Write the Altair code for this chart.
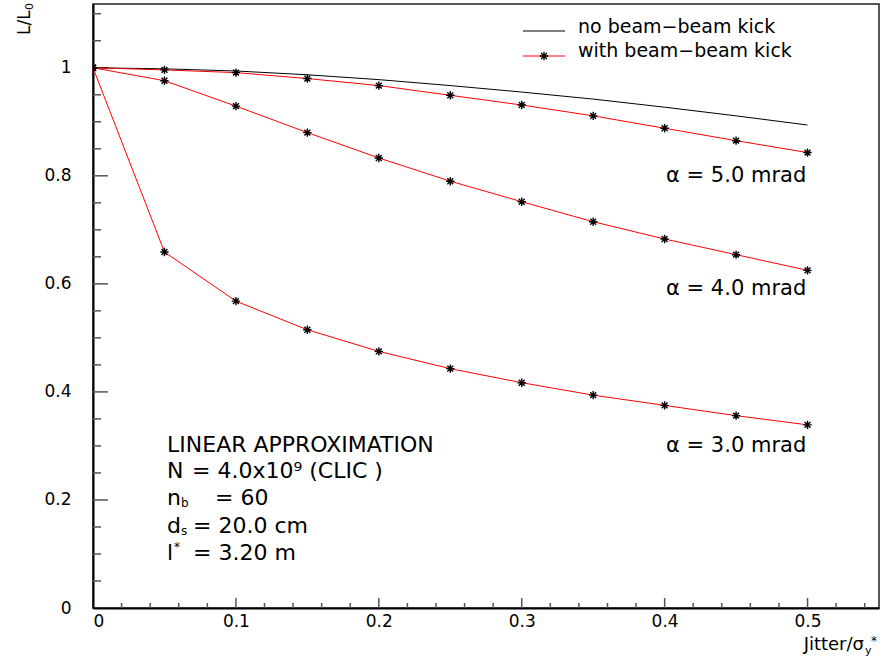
import altair as alt
import pandas as pd

# ---------------- data ----------------
jitter = [0.0, 0.05, 0.10, 0.15, 0.20, 0.25, 0.30, 0.35, 0.40, 0.45, 0.50]
no_kick = [1.000, 0.998, 0.994, 0.987, 0.978, 0.967, 0.955, 0.942, 0.927, 0.911, 0.894]
kick_5mrad = [1.000, 0.996, 0.991, 0.980, 0.967, 0.949, 0.931, 0.911, 0.888, 0.865, 0.843]
kick_4mrad = [1.000, 0.976, 0.929, 0.880, 0.833, 0.790, 0.752, 0.715, 0.683, 0.654, 0.625]
kick_3mrad = [1.000, 0.659, 0.568, 0.515, 0.475, 0.443, 0.417, 0.394, 0.375, 0.356, 0.339]
series_names = ["5.0 mrad", "4.0 mrad", "3.0 mrad"]

x_labels = [0, 0.1, 0.2, 0.3, 0.4, 0.5]
y_labels = [0, 0.2, 0.4, 0.6, 0.8, 1.0]

curve_labels = ["α  =  5.0  mrad", "α  =  4.0  mrad", "α  =  3.0  mrad"]
curve_label_x = [0.401, 0.401, 0.401]
curve_label_y = [0.800, 0.590, 0.300]

# ---------------- layout ----------------
W, H = 786, 604
X_MAX, Y_MAX = 0.55, 1.118
FONT = "DejaVu Sans"

df_nokick = pd.DataFrame({"x": jitter, "y": no_kick})
rows = []
for name, vals in zip(series_names, [kick_5mrad, kick_4mrad, kick_3mrad]):
    for xv, yv in zip(jitter, vals):
        rows.append({"x": xv, "y": yv, "series": name})
df_kick = pd.DataFrame(rows)

xs = alt.Scale(domain=[0, X_MAX], nice=False, zero=False)
ys = alt.Scale(domain=[0, Y_MAX], nice=False, zero=False)

x_axis = alt.Axis(values=x_labels, format="~g", tickSize=0, ticks=False, grid=False,
                  domain=True, domainColor="black", domainWidth=2,
                  labelFont=FONT, labelFontSize=17, labelColor="black",
                  labelPadding=5, title=None)
y_axis = alt.Axis(values=y_labels, format="~g", tickSize=0, ticks=False, grid=False,
                  domain=True, domainColor="black", domainWidth=2,
                  labelFont=FONT, labelFontSize=17, labelColor="black",
                  labelPadding=22, title=None)

X = lambda f: alt.X(f, scale=xs, axis=x_axis)
Y = lambda f: alt.Y(f, scale=ys, axis=y_axis)

# ticks (inward)
xt_minor = [round(k * 0.02, 2) for k in range(1, 28) if k % 5 != 0]
xt_major = [round(k * 0.02, 2) for k in range(1, 28) if k % 5 == 0]
yt_minor = [round(k * 0.05, 2) for k in range(1, 23) if k % 4 != 0]
yt_major = [round(k * 0.05, 2) for k in range(1, 23) if k % 4 == 0]

TICK_COLOR = "#555555"

def xticks(vals, length):
    return alt.Chart(pd.DataFrame({"x": vals})).mark_rule(
        color=TICK_COLOR, strokeWidth=1.5).encode(
        x=X("x:Q"), y=alt.value(H), y2=alt.value(H - length))

def yticks(vals, length):
    return alt.Chart(pd.DataFrame({"y": vals})).mark_rule(
        color=TICK_COLOR, strokeWidth=1.5).encode(
        y=Y("y:Q"), x=alt.value(0), x2=alt.value(length))

black_line = alt.Chart(df_nokick).mark_line(color="black", strokeWidth=1).encode(
    x=X("x:Q"), y=Y("y:Q"))

red_lines = alt.Chart(df_kick).mark_line(color="#ff0000", strokeWidth=1).encode(
    x=X("x:Q"), y=Y("y:Q"), detail="series:N")

STAR = "M-1,0L1,0M0,-1L0,1M-0.7,-0.7L0.7,0.7M-0.7,0.7L0.7,-0.7"
stars = alt.Chart(df_kick).mark_point(
    shape=STAR, filled=False, color="black", strokeWidth=1.4, size=70,
    opacity=1, clip=True).encode(x=X("x:Q"), y=Y("y:Q"))

df_cl = pd.DataFrame({"x": curve_label_x, "y": curve_label_y, "t": curve_labels})
curve_text = alt.Chart(df_cl).mark_text(
    align="left", baseline="middle", font=FONT, fontSize=21, color="black").encode(
    x=X("x:Q"), y=Y("y:Q"), text="t:N")

# annotation block
ann_main = pd.DataFrame({
    "x": [0.0518, 0.0518, 0.0693, 0.0518, 0.0854, 0.0518, 0.0700, 0.0518, 0.0700],
    "y": [0.301, 0.2536, 0.2536, 0.2036, 0.2036, 0.1518, 0.1518, 0.1018, 0.1018],
    "t": ["LINEAR APPROXIMATION", "N", "= 4.0x10⁹ (CLIC )", "n", "=  60",
          "d", "= 20.0 cm", "l", "= 3.20 m"],
})
ann_text = alt.Chart(ann_main).mark_text(
    align="left", baseline="middle", font=FONT, fontSize=22, color="black").encode(
    x=X("x:Q"), y=Y("y:Q"), text="t:N")
ann_sub = pd.DataFrame({"x": [0.0518, 0.0518], "y": [0.2036, 0.1518], "t": ["b", "s"]})
ann_sub_text = alt.Chart(ann_sub).mark_text(
    align="left", baseline="middle", font=FONT, fontSize=12, color="black",
    dx=14, dy=5).encode(x=X("x:Q"), y=Y("y:Q"), text="t:N")
ann_sup = pd.DataFrame({"x": [0.0518], "y": [0.1018], "t": ["*"]})
ann_sup_text = alt.Chart(ann_sup).mark_text(
    align="left", baseline="middle", font=FONT, fontSize=12, color="black",
    dx=7, dy=-6).encode(x=X("x:Q"), y=Y("y:Q"), text="t:N")

# legend (pixel placement inside plot area)
one = pd.DataFrame({"a": [0]})
leg_black = alt.Chart(one).mark_rule(color="black", strokeWidth=1).encode(
    x=alt.value(430), x2=alt.value(472), y=alt.value(27))
leg_red = alt.Chart(one).mark_rule(color="#ff0000", strokeWidth=1).encode(
    x=alt.value(430), x2=alt.value(472), y=alt.value(52))
leg_star = alt.Chart(one).mark_point(
    shape=STAR, filled=False, color="black", strokeWidth=1.4, size=70, opacity=1).encode(
    x=alt.value(451), y=alt.value(52))
leg_t1 = alt.Chart(one).mark_text(
    text="no beam−beam kick", align="left", baseline="alphabetic",
    font=FONT, fontSize=19, color="black").encode(x=alt.value(485), y=alt.value(29))
leg_t2 = alt.Chart(one).mark_text(
    text="with beam−beam kick", align="left", baseline="alphabetic",
    font=FONT, fontSize=19, color="black").encode(x=alt.value(485), y=alt.value(53))

# axis titles
ytitle = alt.Chart(one).mark_text(
    text="L/L", angle=270, align="left", baseline="alphabetic",
    font=FONT, fontSize=17, color="black").encode(x=alt.value(-63), y=alt.value(31))
ytitle_sub = alt.Chart(one).mark_text(
    text="0", angle=270, align="left", baseline="alphabetic",
    font=FONT, fontSize=11, color="black").encode(x=alt.value(-60), y=alt.value(6))
xtitle = alt.Chart(one).mark_text(
    text="Jitter/σ", align="right", baseline="alphabetic",
    font=FONT, fontSize=18, color="black").encode(x=alt.value(771), y=alt.value(646))
xtitle_sub = alt.Chart(one).mark_text(
    text="y", align="left", baseline="alphabetic",
    font=FONT, fontSize=11, color="black").encode(x=alt.value(772), y=alt.value(650))
xtitle_sup = alt.Chart(one).mark_text(
    text="*", align="left", baseline="alphabetic",
    font=FONT, fontSize=12, color="black").encode(x=alt.value(778), y=alt.value(641))

chart = alt.layer(
    xticks(xt_minor, 5), xticks(xt_major, 10),
    yticks(yt_minor, 8), yticks(yt_major, 15),
    black_line, red_lines, stars, curve_text,
    ann_text, ann_sub_text, ann_sup_text,
    leg_black, leg_red, leg_star, leg_t1, leg_t2,
    ytitle, ytitle_sub, xtitle, xtitle_sub, xtitle_sup,
).properties(
    width=W, height=H,
    padding={"left": 93, "top": 4, "right": 2, "bottom": 53},
    autosize=alt.AutoSizeParams(type="none"),
    background="white",
).configure_view(
    stroke="#222222", strokeWidth=1.5,
)

chart.save("out.html", embed_options={"renderer": "svg", "actions": False})
